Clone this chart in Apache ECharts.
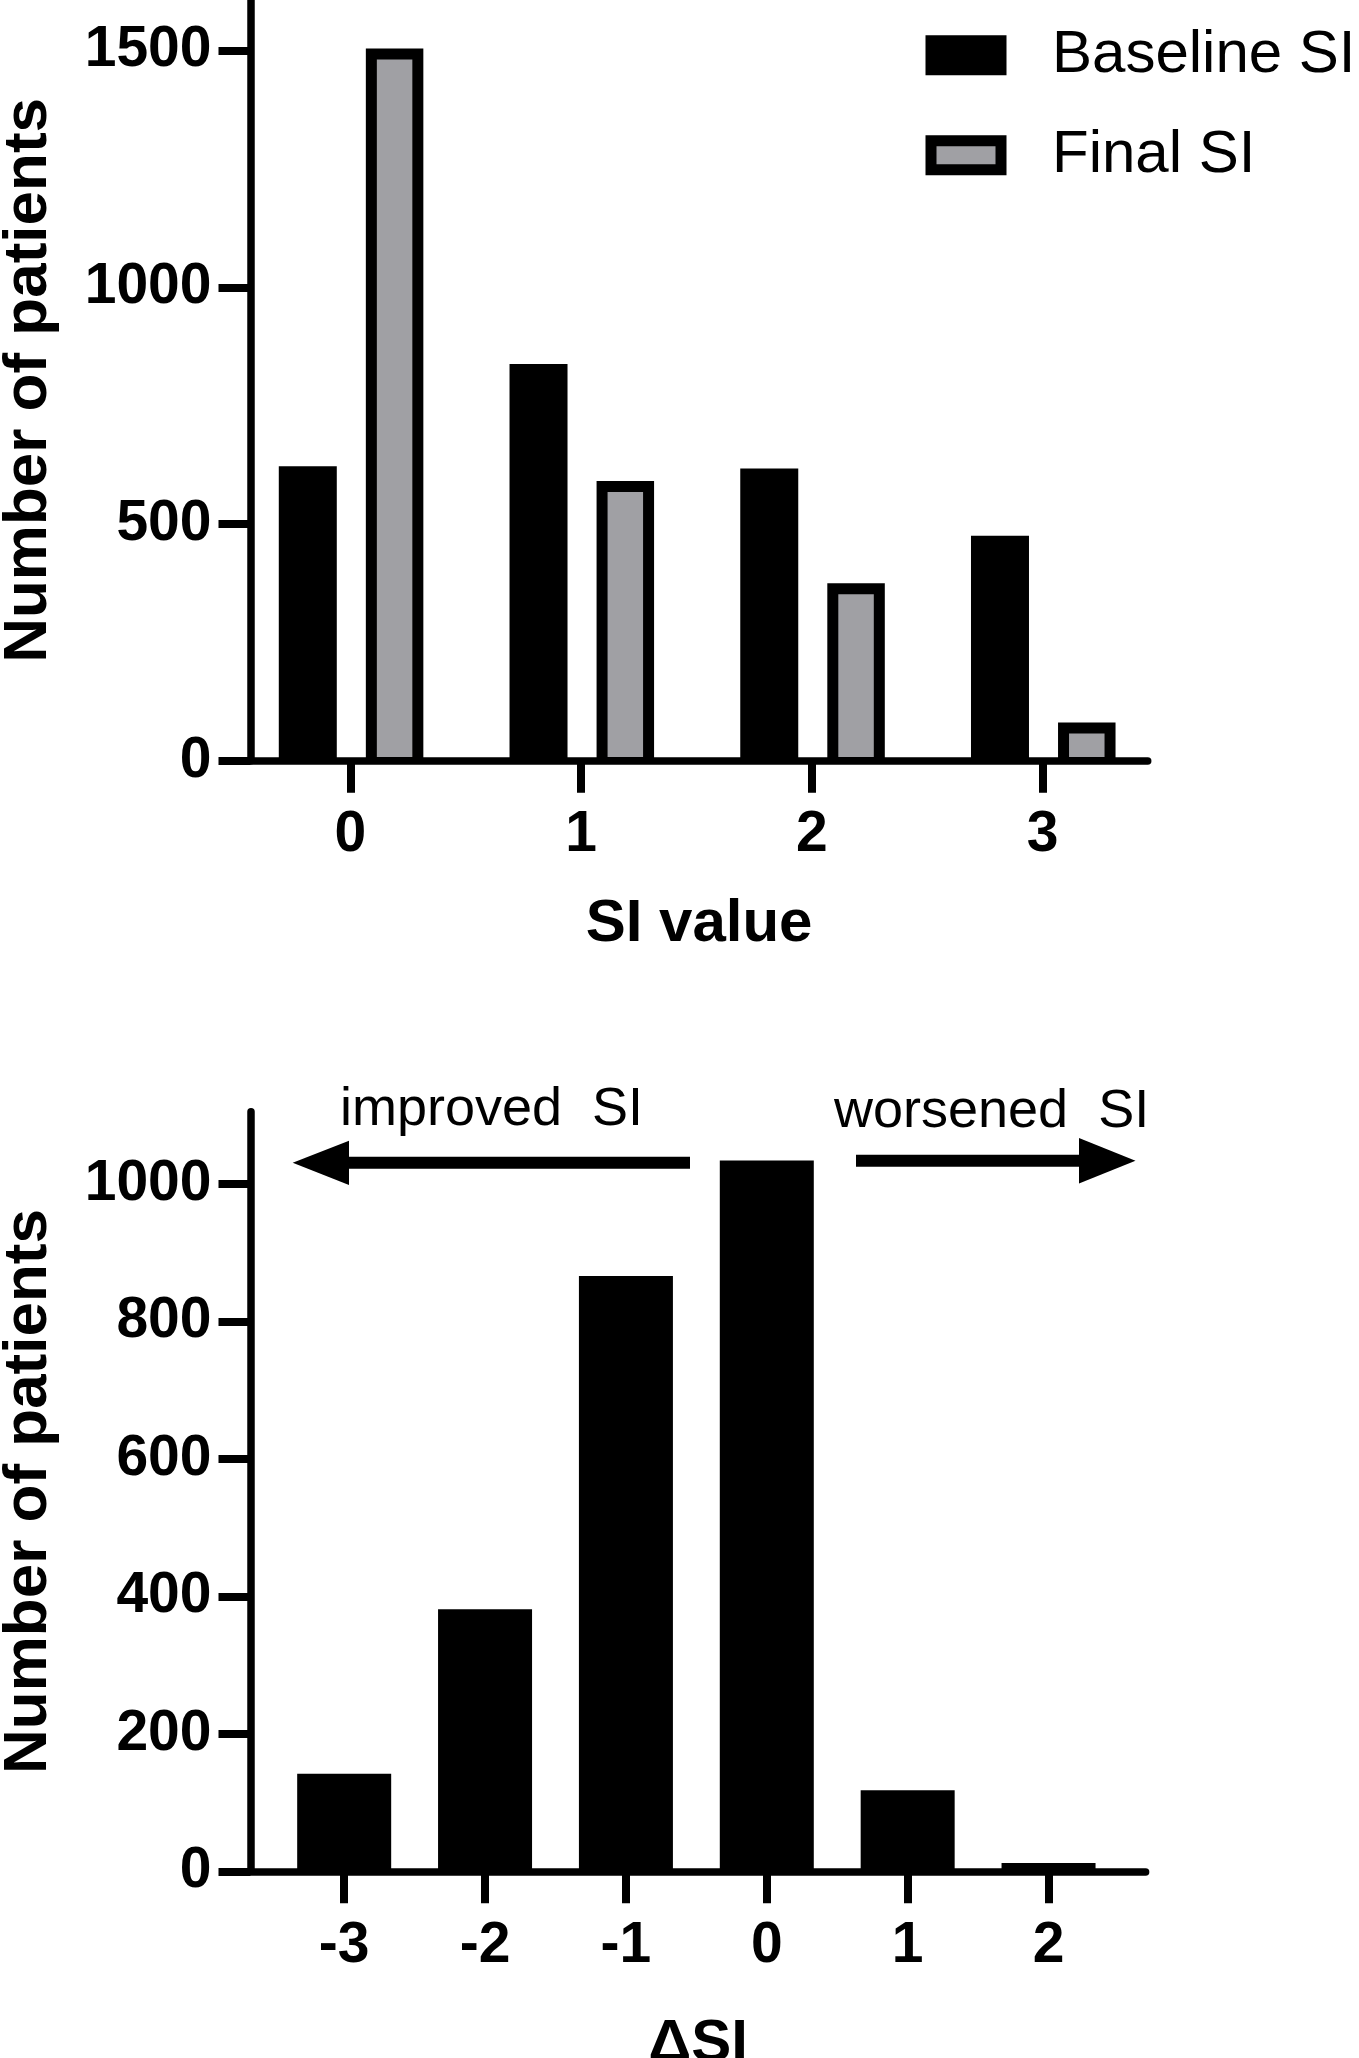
<!DOCTYPE html>
<html>
<head>
<meta charset="utf-8">
<script src="https://cdn.jsdelivr.net/npm/echarts@6/dist/echarts.min.js"></script>
<style>
  html, body { margin: 0; padding: 0; background: #fff; }
  #chart { width: 1359px; height: 2058px; }
</style>
</head>
<body>
<div id="chart"></div>
<script>
// ---- data ----
const siCategories = [0, 1, 2, 3];
const baselineSI = [622, 838, 617, 475];
const finalSI = [1504, 591, 375, 81];
const deltaCategories = [-3, -2, -1, 0, 1, 2];
const deltaCounts = [142, 381, 866, 1034, 118, 12];
const topYTicks = [0, 500, 1000, 1500];
const bottomYTicks = [0, 200, 400, 600, 800, 1000];
const seriesNames = ['Baseline SI', 'Final SI'];
const annotations = ['improved  SI', 'worsened  SI'];

const FONT = 'Liberation Sans, Arial, Helvetica, sans-serif';
const GRAY = '#a0a0a4';

const chart = echarts.init(document.getElementById('chart'), null, { renderer: 'canvas' });

function blackBar(params, api) {
  const p = api.coord([api.value(0), api.value(1)]);
  const b = api.coord([api.value(0), 0]);
  const w = 58, off = -42.5;
  return {
    type: 'rect',
    shape: { x: p[0] + off - w / 2, y: p[1], width: w, height: b[1] - p[1] },
    style: { fill: '#000' }
  };
}
function grayBar(params, api) {
  const p = api.coord([api.value(0), api.value(1)]);
  const b = api.coord([api.value(0), 0]);
  const w = 57.5, off = 44.3, bw = 11;
  const x0 = p[0] + off - w / 2;
  return {
    type: 'group',
    children: [
      { type: 'rect', shape: { x: x0, y: p[1], width: w, height: b[1] - p[1] }, style: { fill: '#000' } },
      { type: 'rect', shape: { x: x0 + bw, y: p[1] + bw, width: w - 2 * bw, height: Math.max(0, b[1] - 3.75 - (p[1] + bw)) }, style: { fill: GRAY } }
    ]
  };
}

const plain = v => String(v);
const axisLabelStyle = { color: '#000', fontFamily: FONT, fontWeight: 'bold', fontSize: 57, formatter: plain };
const nameStyle = { color: '#000', fontFamily: FONT, fontWeight: 'bold', fontSize: 62 };
const lineStyle = { color: '#000', width: 7.5 };
const tickStyle = { color: '#000', width: 8 };

const option = {
  animation: false,
  backgroundColor: '#fff',
  legend: {
    orient: 'vertical',
    left: 925.5,
    top: 25.25,
    padding: 0,
    itemWidth: 70,
    itemHeight: 29,
    itemGap: 40,
    icon: 'rect',
    selectedMode: false,
    textStyle: { color: '#000', fontFamily: FONT, fontSize: 60, padding: [0, 0, 0, 46] },
    data: [
      { name: seriesNames[0], itemStyle: { color: '#000', borderColor: '#000', borderWidth: 11 } },
      { name: seriesNames[1], itemStyle: { color: GRAY, borderColor: '#000', borderWidth: 11 } }
    ]
  },
  grid: [
    { left: 250.5, top: 0, width: 897.2, height: 760.8, containLabel: false, outerBoundsMode: 'none' },
    { left: 250.5, top: 1111.7, width: 895.1, height: 759.6, containLabel: false, outerBoundsMode: 'none' }
  ],
  xAxis: [
    {
      type: 'value', gridIndex: 0, min: -0.4325, max: 3.456,
      name: 'SI value', nameLocation: 'middle', nameGap: 134,
      nameTextStyle: Object.assign({}, nameStyle, { fontSize: 60 }),
      axisLine: { show: true, onZero: false, lineStyle: lineStyle },
      axisTick: { show: true, length: 32, lineStyle: tickStyle, customValues: siCategories },
      axisLabel: Object.assign({ margin: 46, customValues: siCategories }, axisLabelStyle),
      splitLine: { show: false }
    },
    {
      type: 'value', gridIndex: 1, min: -3.665, max: 2.689,
      name: 'ΔSI', nameLocation: 'middle', nameGap: 143,
      nameTextStyle: Object.assign({}, nameStyle, { fontSize: 60 }),
      axisLine: { show: true, onZero: false, lineStyle: lineStyle },
      axisTick: { show: true, length: 32, lineStyle: tickStyle, customValues: deltaCategories },
      axisLabel: Object.assign({ margin: 46, customValues: deltaCategories }, axisLabelStyle),
      splitLine: { show: false }
    }
  ],
  yAxis: [
    {
      type: 'value', gridIndex: 0, min: 0, max: 1606.6,
      name: 'Number of patients', nameLocation: 'middle', nameGap: 191,
      nameTextStyle: nameStyle,
      axisLine: { show: true, onZero: false, lineStyle: lineStyle },
      axisTick: { show: true, length: 32, lineStyle: tickStyle, customValues: topYTicks },
      axisLabel: Object.assign({ margin: 39, customValues: topYTicks }, axisLabelStyle),
      splitLine: { show: false }
    },
    {
      type: 'value', gridIndex: 1, min: 0, max: 1104.9,
      name: 'Number of patients', nameLocation: 'middle', nameGap: 191,
      nameTextStyle: nameStyle,
      axisLine: { show: true, onZero: false, lineStyle: lineStyle },
      axisTick: { show: true, length: 32, lineStyle: tickStyle, customValues: bottomYTicks },
      axisLabel: Object.assign({ margin: 39, customValues: bottomYTicks }, axisLabelStyle),
      splitLine: { show: false }
    }
  ],
  series: [
    {
      name: seriesNames[0], type: 'custom', xAxisIndex: 0, yAxisIndex: 0,
      itemStyle: { color: '#000' },
      encode: { x: 0, y: 1 },
      renderItem: blackBar,
      data: siCategories.map((c, i) => [c, baselineSI[i]])
    },
    {
      name: seriesNames[1], type: 'custom', xAxisIndex: 0, yAxisIndex: 0,
      itemStyle: { color: GRAY },
      encode: { x: 0, y: 1 },
      renderItem: grayBar,
      data: siCategories.map((c, i) => [c, finalSI[i]])
    },
    {
      name: 'ΔSI', type: 'bar', xAxisIndex: 1, yAxisIndex: 1,
      barWidth: 94,
      itemStyle: { color: '#000' },
      data: deltaCategories.map((c, i) => [c, deltaCounts[i]])
    }
  ],
  graphic: [
    { type: 'text', left: 340, top: 1083, style: { text: annotations[0], font: '54px ' + FONT, fill: '#000' } },
    { type: 'text', left: 834, top: 1085, style: { text: annotations[1], font: '54px ' + FONT, fill: '#000' } },
    { type: 'rect', shape: { x: 347, y: 1156.7, width: 343, height: 12 }, style: { fill: '#000' } },
    { type: 'polygon', shape: { points: [[292.7, 1162.7], [349, 1140.7], [349, 1185]] }, style: { fill: '#000' } },
    { type: 'rect', shape: { x: 856, y: 1154.7, width: 224, height: 12 }, style: { fill: '#000' } },
    { type: 'polygon', shape: { points: [[1079, 1138], [1135.5, 1160.7], [1079, 1183.4]] }, style: { fill: '#000' } }
  ]
};

chart.setOption(option);
</script>
</body>
</html>
